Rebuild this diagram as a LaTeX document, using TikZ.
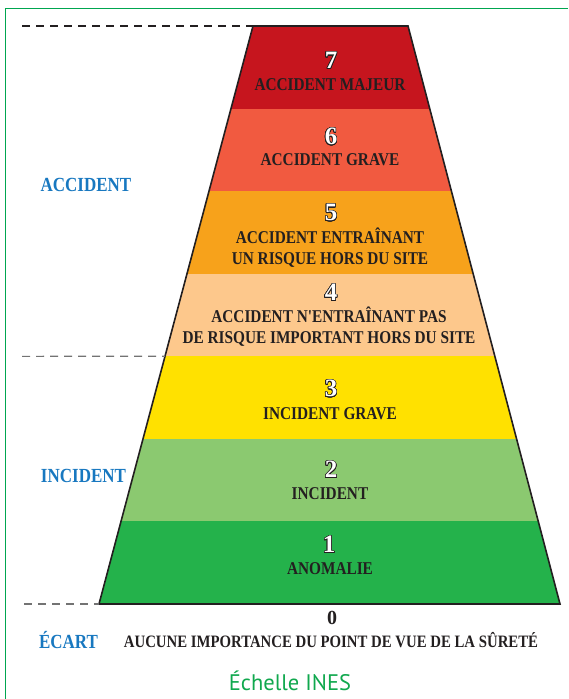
\documentclass[tikz,border=0pt]{standalone}
\usepackage{fontspec}
\usepackage{contour}
\usetikzlibrary{calc}
\setmainfont{Liberation Serif}
\newfontfamily\labfont{Liberation Serif}[FakeStretch=0.85]
\newfontfamily\titlefont{PT Sans}
\contourlength{0.7pt}
\contournumber{24}
\definecolor{frame}{HTML}{00A650}
\definecolor{inesblue}{HTML}{1878C0}
\definecolor{inesgreen}{HTML}{10A84E}
\definecolor{dark}{HTML}{231F20}
\definecolor{cseven}{HTML}{C6151E}
\definecolor{csix}{HTML}{F15A40}
\definecolor{cfive}{HTML}{F7A21B}
\definecolor{cfour}{HTML}{FDC88C}
\definecolor{cthree}{HTML}{FFE100}
\definecolor{ctwo}{HTML}{8BC970}
\definecolor{cone}{HTML}{24B24B}
\tikzset{
  lab/.style={font=\labfont\bfseries\fontsize{18}{21}\selectfont, text=dark, align=center, inner sep=0pt},
  zerolab/.style={font=\labfont\bfseries\fontsize{17.4}{19}\selectfont, text=dark, inner sep=0pt},
  num/.style={font=\rmfamily\bfseries\fontsize{25}{25}\selectfont, inner sep=0pt},
  side/.style={font=\labfont\bfseries\fontsize{20}{22}\selectfont, text=inesblue, inner sep=0pt},
  title/.style={font=\titlefont\fontsize{22.5}{24}\selectfont, text=inesgreen, inner sep=0pt},
  dashline/.style={line width=1.1pt, dash pattern=on 8pt off 6pt},
  outline/.style={line width=1.6pt, draw=dark, line join=miter},
  framestyle/.style={line width=1.5pt, draw=frame}
}
\newcommand{\outnum}[1]{\textcolor{white}{\contour{dark}{#1}}}
\begin{document}
\begin{tikzpicture}[x=1pt,y=-1pt]
\useasboundingbox (0,0) rectangle (568,699);
% frame
\draw[framestyle] (5.7,699) -- (5.7,8.3) -- (568,8.3);
% trapezoid corners
\coordinate (TL) at (253,26);
\coordinate (TR) at (408,26);
\coordinate (BR) at (560,604);
\coordinate (BL) at (99,604);
\begin{scope}
\clip (TL) -- (TR) -- (BR) -- (BL) -- cycle;
\fill[cseven] (0,20) rectangle (568,108.6);
\fill[csix] (0,108.6) rectangle (568,191.1);
\fill[cfive] (0,191.1) rectangle (568,273.7);
\fill[cfour] (0,273.7) rectangle (568,356.3);
\fill[cthree] (0,356.3) rectangle (568,438.9);
\fill[ctwo] (0,438.9) rectangle (568,521.4);
\fill[cone] (0,521.4) rectangle (568,610);
\end{scope}
\draw[outline] (TL) -- (TR) -- (BR) -- (BL) -- cycle;
% dashed lines
\coordinate (DA) at (22,26);
\coordinate (DM) at (22,356.3);
\coordinate (DB) at (24,604);
\coordinate (EM) at ($(TL)!0.5714!(BL)$);
\draw[dashline, dark] (DA) -- (TL);
\draw[dashline, black!55] (DM) -- (EM);
\draw[dashline, black!55] (DB) -- (BL);
% levels
\node[num] (n7) at (331,61) {\outnum{7}};
\node[lab] (t7) at (330,85) {ACCIDENT MAJEUR};
\node[num] (n6) at (331,137) {\outnum{6}};
\node[lab] (t6) at (330,160) {ACCIDENT GRAVE};
\node[num] (n5) at (331,213) {\outnum{5}};
\node[lab] (t5) at (330,247.5) {ACCIDENT ENTRAÎNANT\\UN RISQUE HORS DU SITE};
\node[num] (n4) at (331,293) {\outnum{4}};
\node[lab] (t4) at (329,326.5) {ACCIDENT N'ENTRAÎNANT PAS\\DE RISQUE IMPORTANT HORS DU SITE};
\node[num] (n3) at (331,389) {\outnum{3}};
\node[lab] (t3) at (330,414) {INCIDENT GRAVE};
\node[num] (n2) at (331,470) {\outnum{2}};
\node[lab] (t2) at (330,494) {INCIDENT};
\node[num] (n1) at (329,545) {\outnum{1}};
\node[lab] (t1) at (330,569) {ANOMALIE};
\node[num, text=dark, font=\rmfamily\bfseries\fontsize{20}{20}\selectfont] (n0) at (332,618) {0};
\node[zerolab] (t0) at (331,640) {AUCUNE IMPORTANCE DU POINT DE VUE DE LA SÛRETÉ};
% side labels
\node[side] (sa) at (86,185) {ACCIDENT};
\node[side] (si) at (83.5,476) {INCIDENT};
\node[side] (se) at (68.5,640) {ÉCART};
% title
\node[title, anchor=base] (ti) at (290,690) {Échelle INES};
\end{tikzpicture}
\end{document}
